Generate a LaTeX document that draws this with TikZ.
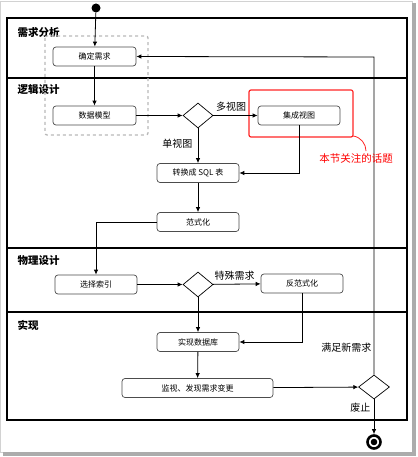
\documentclass[tikz,border=0pt]{standalone}
\usepackage{fontspec}
\newfontfamily\cjk{Noto Sans CJK SC}
\usetikzlibrary{shapes.geometric,arrows.meta}
\tikzset{
  act/.style={draw=gray!60!black,rounded corners=3pt,line width=.7pt,
    minimum width=83pt,minimum height=19pt,inner sep=0pt,
    font=\cjk\fontsize{8}{8}\selectfont},
  choice/.style={draw,diamond,minimum width=30pt,minimum height=25pt,
    inner sep=0pt,line width=.7pt},
  arr/.style={-{Latex[length=5pt,width=4.5pt]},line width=.8pt},
  lbl/.style={font=\cjk\fontsize{10}{10}\selectfont},
  lane/.style={font=\cjk\bfseries\fontsize{10.5}{10.5}\selectfont,anchor=west}
}
\begin{document}
\begin{tikzpicture}[x=1pt,y=-1pt]
\useasboundingbox (0,0) rectangle (417,457);
% frame of the screenshot
\fill[white] (0,0) rectangle (417,457);
\draw[gray!35] (0.5,1) rectangle (412,452);
\fill[gray!65] (412,3) rectangle (416,456);
\fill[gray!65] (3,452) rectangle (416,456);

% lanes
\draw[line width=2pt] (7,18) rectangle (407,420);
\draw[line width=2pt] (7,78) -- (407,78);
\draw[line width=2pt] (7,248) -- (407,248);
\draw[line width=2pt] (7,312) -- (407,312);
\draw (14,32) node[lane] (l1) {需求分析};
\draw (14,90) node[lane] (l2) {逻辑设计};
\draw (14,261) node[lane] (l3) {物理设计};
\draw (14,325) node[lane] (l4) {实现};

% dashed and red marks
\draw[gray!55,dashed,line width=1.3pt,rounded corners=2pt] (45,36) rectangle (148,135);
\draw[red!85,line width=1.2pt,rounded corners=2pt] (249,90) rectangle (353,137);

% activities
\draw (96,8) node[circle,fill=black,minimum size=9pt,inner sep=0pt] (st) {};
\draw (94.5,56.5) node[act] (qd) {确定需求};
\draw (94.5,115.5) node[act] (sj) {数据模型};
\draw (198,115.5) node[choice] (d1) {};
\draw (299,115.5) node[act,minimum width=82pt] (jc) {集成视图};
\draw (198,173) node[act,minimum width=82pt] (zh) {转换成 SQL 表};
\draw (198,222) node[act,minimum width=82pt] (fs) {范式化};
\draw (96,284.5) node[act,minimum width=82pt] (xz) {选择索引};
\draw (198,284.5) node[choice] (d2) {};
\draw (302,283.5) node[act,minimum width=82pt] (ff) {反范式化};
\draw (198,342) node[act,minimum width=82pt] (ss) {实现数据库};
\draw (197.5,388) node[act,minimum width=151pt] (jk) {监视、发现需求变更};
\draw (374,387) node[choice,minimum width=31pt,minimum height=24pt] (d3) {};
\draw (374,442) node[circle,draw,line width=2.6pt,minimum size=13pt,inner sep=0pt] (en) {};
\fill (en) circle (3.3pt);
\coordinate (top) at (374,57);

% flows
\draw[arr] (st)--(qd);
\draw[arr] (qd)--(sj);
\draw[arr] (sj)--(d1);
\draw[arr] (d1)--(jc) node[lbl,above,pos=.4] {多视图};
\draw[arr] (d1)--(zh) node[lbl,left,pos=.45,xshift=-2pt] {单视图};
\draw[arr] (jc.south) |- (zh.east);
\draw[arr] (zh)--(fs);
\draw[arr] (fs.west) -| (xz.north);
\draw[arr] (xz)--(d2);
\draw[arr] (d2)--(ff) node[lbl,above,pos=.45] {特殊需求};
\draw[arr] (d2)--(ss);
\draw[arr] (ff.south) |- (ss.east);
\draw[arr] (ss)--(jk);
\draw[arr] (jk)--(d3);
\draw[arr] (d3.north)--(top)--(qd.east);
\draw (374,348) node[lbl,left,xshift=1pt] {满足新需求};
\draw[arr] (d3)--(en) node[lbl,left,pos=.25] {废止};

% note
\draw[red!85,line width=.8pt] (353,136) .. controls (361,137) and (366,144) .. (366,151);
\draw (356,158) node[red,font=\cjk\fontsize{10.5}{10.5}\selectfont] (note) {本节关注的话题};
\end{tikzpicture}
\end{document}
